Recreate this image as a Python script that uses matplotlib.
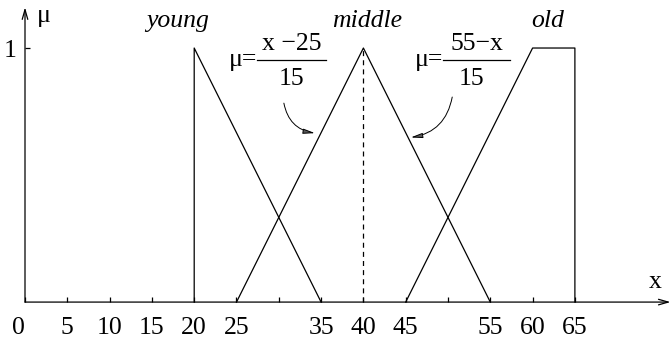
import matplotlib
matplotlib.use("Agg")
import matplotlib.pyplot as plt

# ── data ────────────────────────────────────────────────────────────────
young_x = [20, 20, 35]
young_y = [0, 1, 0]
middle_x = [25, 40, 55]
middle_y = [0, 1, 0]
old_x = [45, 60, 65, 65]
old_y = [0, 1, 1, 0]
peak_x = [40, 40]          # dashed line under the middle peak
peak_y = [0, 1]

tick_pos = [0, 5, 10, 15, 20, 25, 30, 35, 40, 45, 50, 55, 60, 65]
tick_labels = ["0", "5", "10", "15", "20", "25", "", "35", "40", "45", "", "55", "60", "65"]

FONT = "Liberation Serif"
FS = 18.5
LW = 0.9

plt.rcParams["font.family"] = [FONT, "DejaVu Serif"]

fig = plt.figure(figsize=(6.71, 3.44), dpi=100)
ax = fig.add_axes([0, 0, 1, 1])
ax.set_xlim(-2.955, 76.36)
ax.set_ylim(-0.165, 1.189)

# membership functions
ax.plot(young_x, young_y, color="black", lw=LW)
ax.plot(middle_x, middle_y, color="black", lw=LW)
ax.plot(old_x, old_y, color="black", lw=LW)
ax.plot(peak_x, peak_y, color="black", lw=LW, ls=(0, (4, 3.3)))

# axes drawn as arrows; spines hidden but kept at data 0 for the ticks
for s in ["top", "right", "left", "bottom"]:
    ax.spines[s].set_visible(False)
ax.spines["left"].set_position(("data", 0))
ax.spines["bottom"].set_position(("data", 0))
ax.annotate("", xy=(76.3, 0), xytext=(0, 0),
            arrowprops=dict(arrowstyle="->,head_length=0.7,head_width=0.2",
                            lw=LW, color="black", shrinkA=0, shrinkB=0))
ax.annotate("", xy=(0, 1.16), xytext=(0, 0),
            arrowprops=dict(arrowstyle="->,head_length=0.7,head_width=0.2",
                            lw=LW, color="black", shrinkA=0, shrinkB=0))

ax.set_xticks(tick_pos)
ax.set_xticklabels(tick_labels, fontsize=FS)
ax.tick_params(axis="x", direction="in", length=3.6, width=LW, pad=11)
ax.get_xticklabels()[0].set_ha("right")
ax.set_yticks([1])
ax.set_yticklabels(["1"], fontsize=FS)
ax.tick_params(axis="y", direction="in", length=3.6, width=LW, pad=6)

# axis names
ax.text(2.2, 1.102, "\u03bc", fontsize=FS, ha="center", va="baseline")
ax.text(74.5, 0.055, "x", fontsize=FS, ha="center", va="baseline")

# set names
ax.text(18.0, 1.083, "young", fontsize=FS, style="italic", ha="center", va="baseline")
ax.text(40.4, 1.083, "middle", fontsize=FS, style="italic", ha="center", va="baseline")
ax.text(61.8, 1.083, "old", fontsize=FS, style="italic", ha="center", va="baseline")

# formulas
def fraction(x0, x1, y, num, xden=None):
    xc = (x0 + x1) / 2
    ax.plot([x0, x1], [y, y], color="black", lw=LW)
    ax.text(x0, y - 0.024, "\u03bc=", fontsize=FS, ha="right", va="baseline")
    ax.text(xc, y + 0.04, num, fontsize=FS, ha="center", va="baseline")
    ax.text(xc if xden is None else xden, y - 0.1, "15", fontsize=FS,
            ha="center", va="baseline")

fraction(27.42, 35.58, 0.953, "x \u221225")
fraction(49.4, 57.33, 0.953, "55\u2212x", xden=52.8)

ax.annotate("", xy=(34.28, 0.665), xytext=(30.6, 0.783),
            arrowprops=dict(arrowstyle="-|>,head_length=0.7,head_width=0.15",
                            lw=0.7, color="black", fc="0.35",
                            connectionstyle="arc3,rad=0.35",
                            shrinkA=0, shrinkB=0))
ax.annotate("", xy=(45.6, 0.648), xytext=(50.5, 0.807),
            arrowprops=dict(arrowstyle="-|>,head_length=0.7,head_width=0.15",
                            lw=0.7, color="black", fc="0.35",
                            connectionstyle="arc3,rad=-0.35",
                            shrinkA=0, shrinkB=0))

fig.savefig("out.png", dpi=100)
